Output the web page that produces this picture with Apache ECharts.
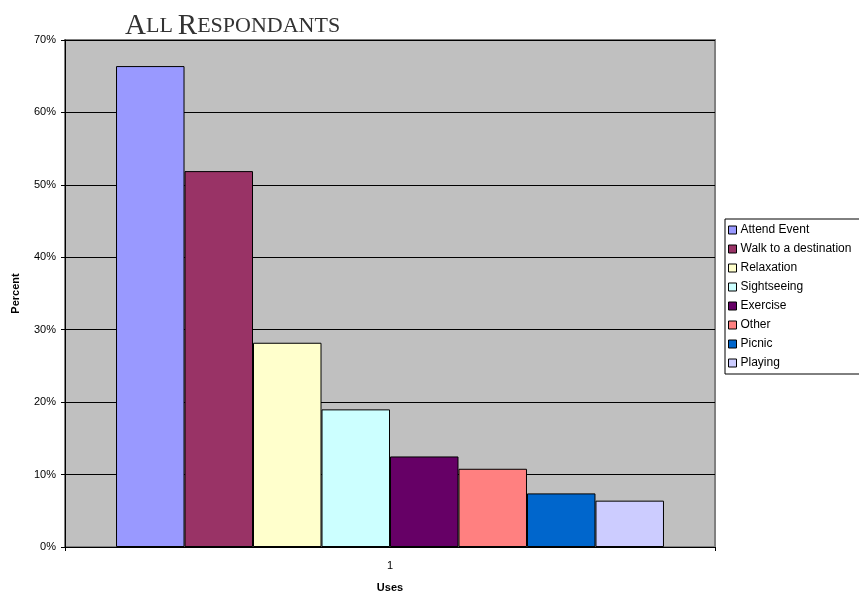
<!DOCTYPE html>
<html>
<head>
<meta charset="utf-8">
<script src="https://cdn.jsdelivr.net/npm/echarts@6/dist/echarts.min.js"></script>
<style>html,body{margin:0;padding:0;background:#fff}#c{width:859px;height:598px}</style>
</head>
<body>
<div id="c"></div>
<script>
const categories = ['1'];
const seriesNames = ['Attend Event','Walk to a destination','Relaxation','Sightseeing','Exercise','Other','Picnic','Playing'];
const seriesValues = [66.4, 51.9, 28.2, 19.0, 12.5, 10.8, 7.4, 6.4];
const seriesColors = ['#9999FF','#993366','#FFFFCC','#CCFFFF','#660066','#FF8080','#0066CC','#CCCCFF'];
const yTicks = [0,10,20,30,40,50,60,70];

const chart = echarts.init(document.getElementById('c'), null, {renderer:'canvas'});
const series = seriesNames.map((n,i)=>({
  name:n, type:'bar', data:[seriesValues[i]],
  barGap:'0%', barCategoryGap:'15.7%',
  itemStyle:{color:seriesColors[i], borderColor:'#000', borderWidth:1},
  emphasis:{disabled:true}
}));
chart.setOption({
  animation:false,
  textStyle:{fontFamily:'Liberation Sans, Arial, sans-serif'},
  title:{
    text:'{b|A}{s|LL} {b|R}{s|ESPONDANTS}',
    left:120, top:7,
    textStyle:{fontWeight:'normal', rich:{
      b:{fontFamily:'Liberation Serif, serif', fontSize:29, fontWeight:'normal', color:'#333'},
      s:{fontFamily:'Liberation Serif, serif', fontSize:22, fontWeight:'normal', color:'#333'}
    }}
  },
  legend:{
    orient:'vertical', left:725, top:219,
    icon:'rect', itemWidth:8, itemHeight:8, itemGap:7,
    padding:[5,10,5,3],
    borderColor:'#000', borderWidth:1, backgroundColor:'#fff',
    textStyle:{fontSize:12, color:'#000', fontFamily:'Liberation Sans, Arial, sans-serif', padding:[0,0,0,-1]},
    data:seriesNames,
    itemStyle:{borderColor:'#000', borderWidth:1}
  },
  grid:{left:65, top:40, right:144, bottom:46, show:true, backgroundColor:'#C0C0C0', borderColor:'#808080', borderWidth:2, containLabel:false},
  xAxis:{
    type:'category', data:categories,
    name:'Uses', nameLocation:'middle', nameGap:35,
    nameTextStyle:{fontWeight:'bold', fontSize:11, color:'#000'},
    axisLine:{lineStyle:{color:'#000', width:1}},
    axisTick:{show:true, length:4, lineStyle:{color:'#000'}},
    axisLabel:{fontSize:11, color:'#000', margin:13},
    splitLine:{show:false}
  },
  yAxis:{
    type:'value', min:yTicks[0], max:yTicks[yTicks.length-1], interval:10,
    name:'Percent', nameLocation:'middle', nameGap:44,
    nameTextStyle:{fontWeight:'bold', fontSize:11, color:'#000'},
    axisLine:{show:true, lineStyle:{color:'#000', width:1}},
    axisTick:{show:true, length:4, lineStyle:{color:'#000'}},
    axisLabel:{formatter:'{value}%', fontSize:11, color:'#000', margin:9},
    splitLine:{show:true, lineStyle:{color:'#000', width:1}}
  },
  series:series
});
</script>
</body>
</html>
